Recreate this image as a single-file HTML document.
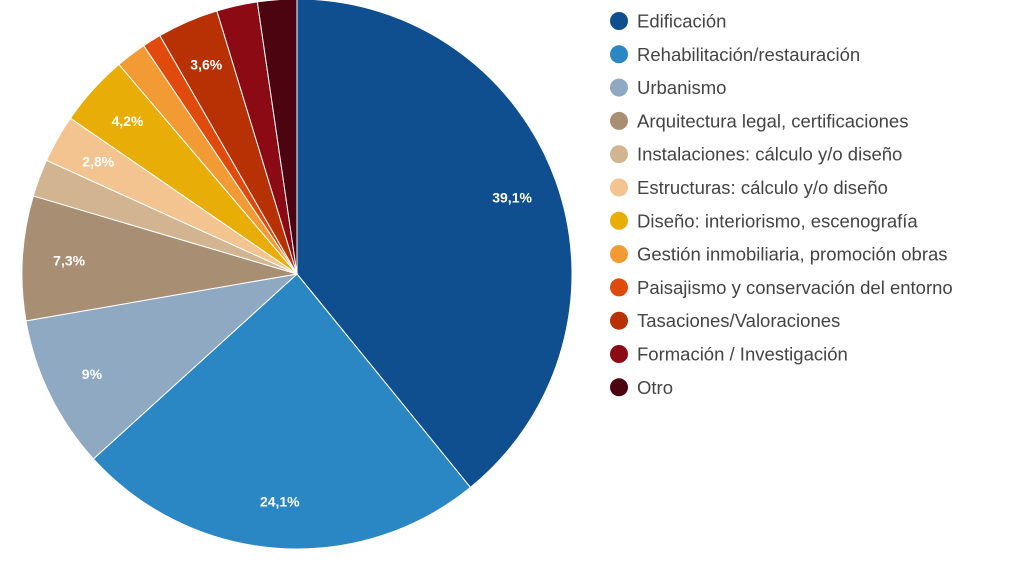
<!DOCTYPE html>
<html><head><meta charset="utf-8"><style>
html,body{margin:0;padding:0;background:#fff;width:1011px;height:563px;overflow:hidden}
svg{display:block;font-family:"Liberation Sans",Arial,sans-serif}
</style></head><body>
<svg id="chart" width="1011" height="563"></svg>
<script>
const categories=["Edificación","Rehabilitación/restauración","Urbanismo","Arquitectura legal, certificaciones","Instalaciones: cálculo y/o diseño","Estructuras: cálculo y/o diseño","Diseño: interiorismo, escenografía","Gestión inmobiliaria, promoción obras","Paisajismo y conservación del entorno","Tasaciones/Valoraciones","Formación / Investigación","Otro"];
const values=[39.1,24.1,9,7.3,2.2,2.8,4.2,1.8,1.1,3.6,2.4,2.3];
const labels=["39,1%","24,1%","9%","7,3%","","2,8%","4,2%","","","3,6%","",""];
const colors=["#0f4f8f","#2b87c3","#8ea9c1","#a88f74","#d2b490","#f3c48f","#e8ad07","#f29b35","#e04a0c","#b83105","#8b0a14","#4b0410"];
const NS="http://www.w3.org/2000/svg";
const svg=document.getElementById('chart');
const cx=297,cy=274,r=275;
const total=values.reduce((a,b)=>a+b,0);
function pt(a,rr){return [cx+rr*Math.sin(a),cy-rr*Math.cos(a)];}
let acc=0;
values.forEach((v,i)=>{
  const a0=acc/total*2*Math.PI; acc+=v; const a1=acc/total*2*Math.PI;
  const p0=pt(a0,r),p1=pt(a1,r);
  const path=document.createElementNS(NS,'path');
  path.setAttribute('d',`M${cx},${cy}L${p0[0]},${p0[1]}A${r},${r} 0 ${a1-a0>Math.PI?1:0} 1 ${p1[0]},${p1[1]}Z`);
  path.setAttribute('fill',colors[i]);path.setAttribute('stroke','#fff');path.setAttribute('stroke-width','1');
  
  
  svg.appendChild(path);
  if(labels[i]){
    const m=(a0+a1)/2;const lp=pt(m,r*0.83);
    const t=document.createElementNS(NS,'text');
    t.setAttribute('x',lp[0]);t.setAttribute('y',lp[1]+5);t.setAttribute('text-anchor','middle');
    t.setAttribute('fill','#fff');t.setAttribute('font-size','14');t.setAttribute('font-weight','bold');
    t.textContent=labels[i];
    
    
    svg.appendChild(t);
  }
});
categories.forEach((c,i)=>{
  const y=21+33.3*i;
  const g=document.createElementNS(NS,'g');
  
  
  const ci=document.createElementNS(NS,'circle');
  ci.setAttribute('cx',619);ci.setAttribute('cy',y);ci.setAttribute('r',9);ci.setAttribute('fill',colors[i]);
  const t=document.createElementNS(NS,'text');
  t.setAttribute('x',637);t.setAttribute('y',y+6.5);t.setAttribute('font-size','18.5');t.setAttribute('fill','#444');
  t.textContent=c;
  g.appendChild(ci);g.appendChild(t);svg.appendChild(g);
});
</script>
</body></html>
